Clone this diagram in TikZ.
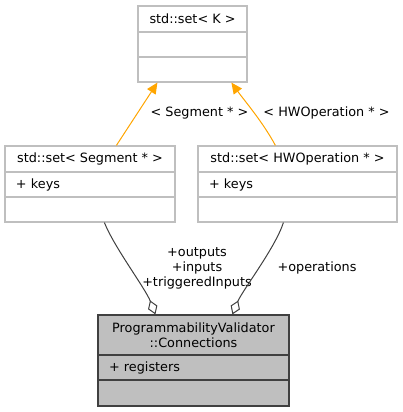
\documentclass[tikz,border=0pt]{standalone}
\usepackage{fontspec}
\setmainfont{DejaVu Sans}
\usetikzlibrary{arrows.meta}
\definecolor{boxgray}{RGB}{191,191,191}
\definecolor{edgegray}{RGB}{64,64,64}
\definecolor{inhorange}{RGB}{255,165,0}
\tikzset{cell/.style={draw=boxgray,line width=1.2pt,inner sep=0pt,minimum height=25pt,
                      font=\fontsize{12.8}{15}\selectfont},
         head/.style={cell,align=center},
         dark/.style={draw=edgegray,fill=boxgray},
         inh/.style={draw=inhorange,line width=1pt,-{Triangle[length=11pt,width=10pt]},
                     inhorange},
         agg/.style={draw=edgegray,line width=1pt,{Diamond[open,length=15pt,width=10pt,fill=white]}-},
         lbl/.style={font=\fontsize{12.8}{15}\selectfont,align=center,inner sep=0pt}}
\begin{document}
\begin{tikzpicture}[x=1pt,y=-1pt]
\useasboundingbox (0,0) rectangle (403,412);
% std::set< K >
\node[head,minimum width=109pt,minimum height=26pt] (setK) at (192.5,19) {std::set< K >};
\node[cell,minimum width=109pt] (setKm) at (192.5,44.5) {};
\node[cell,minimum width=109pt] (setKo) at (192.5,69.5) {};
% std::set< Segment * >
\node[head,minimum width=170pt,minimum height=26pt] (seg) at (90,159) {std::set< Segment * >};
\node[cell,minimum width=170pt,text width=148pt,inner xsep=11pt,align=left] (segm) at (90,184.5) {+ keys};
\node[cell,minimum width=170pt] (sego) at (90,209.5) {};
% std::set< HWOperation * >
\node[head,minimum width=199pt,minimum height=26pt] (hwop) at (297.5,159) {std::set< HWOperation * >};
\node[cell,minimum width=199pt,text width=177pt,inner xsep=11pt,align=left] (hwopm) at (297.5,184.5) {+ keys};
\node[cell,minimum width=199pt] (hwopo) at (297.5,209.5) {};
% ProgrammabilityValidator::Connections
\node[head,dark,minimum width=191pt,minimum height=40pt] (conn) at (193.5,335) {ProgrammabilityValidator\\::Connections};
\node[cell,dark,minimum width=191pt,text width=169pt,inner xsep=11pt,align=left] (connm) at (193.5,367.5) {+ registers};
\node[cell,dark,minimum width=191pt,minimum height=26pt] (conno) at (193.5,393) {};
% template instances
\draw[inh] ([xshift=112pt]seg.north west) -- ([xshift=20pt]setKo.south west);
\node[lbl] (segl) at (199.5,113) {< Segment * >};
\draw[inh] ([xshift=78pt]hwop.north west) .. controls +(-13,-24) and +(13,18) .. ([xshift=94pt]setKo.south west);
\node[lbl] (hwopl) at (326.5,113) {< HWOperation * >};
% members
\draw[agg] ([xshift=58pt]conn.north west) .. controls +(-10,-26) and +(10,25) .. ([xshift=100pt]sego.south west);
\node[lbl] (connl) at (197,268) {+outputs\\+inputs\\+triggeredInputs};
\draw[agg] ([xshift=135pt]conn.north west) .. controls +(10,-24) and +(-8,25) .. ([xshift=86pt]hwopo.south west);
\node[lbl] (hwopl2) at (317,268) {+operations};
\end{tikzpicture}
\end{document}
